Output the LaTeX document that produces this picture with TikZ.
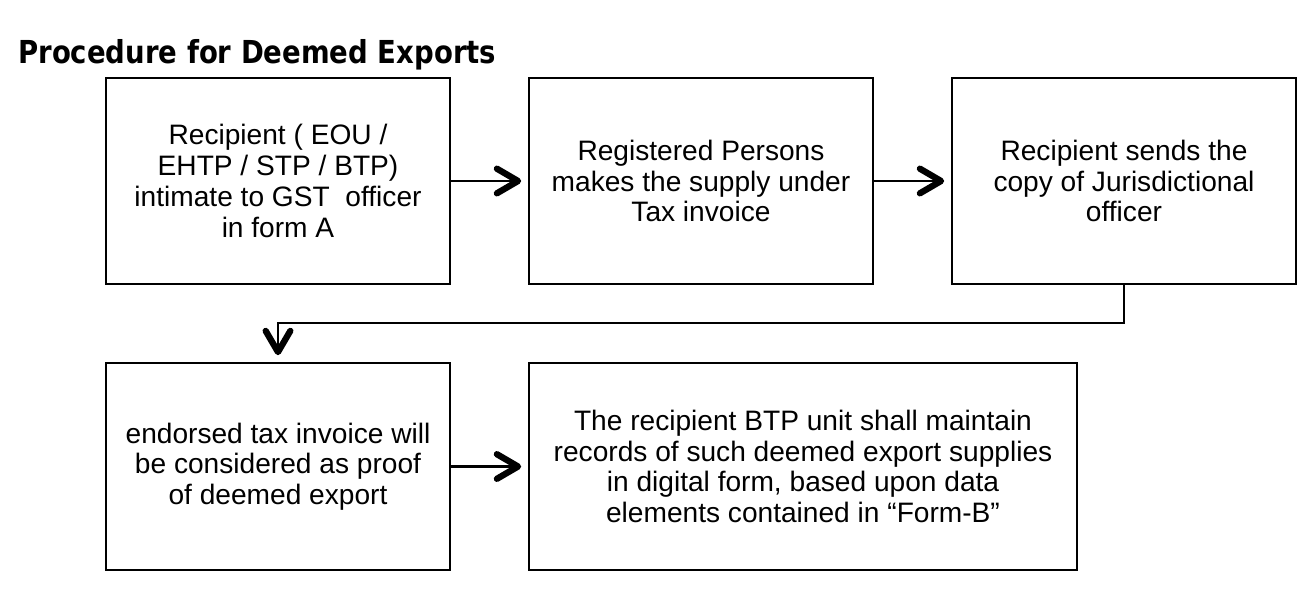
\documentclass[tikz,border=0pt]{standalone}
\usepackage{fontspec}
\setmainfont{Liberation Sans}
\newfontfamily\titlefont{DejaVu Sans}
\usepackage{tikz}
\usetikzlibrary{arrows.meta}
\tikzstyle{stepbox} = [rectangle, draw=black, line width=0.9pt, minimum width=6.88cm,
minimum height=4.12cm, align=center, text centered, font=\fontsize{16}{17.5}\selectfont]
\tikzstyle{flow} = [line width=1.2pt, -{Straight Barb[length=12pt,width=14pt,line width=3.6pt,round]}]

\begin{document}
\begin{tikzpicture}
   \useasboundingbox (0,0) rectangle (26,-11.8);
   \node[anchor=west,inner sep=0pt,font=\titlefont\bfseries\fontsize{18}{21}\selectfont] (title) at (0.36,-1.1)
    {\scalebox{0.87}[1]{Procedure for Deemed Exports}};
   \node[stepbox] (intimate) at (5.56,-3.62) {Recipient ( EOU /\\ EHTP / STP / BTP)\\ intimate to GST~ officer\\ in form A};
   \node[stepbox] (supply) at (14.02,-3.62) {Registered Persons\\ makes the supply under\\ Tax invoice};
   \node[stepbox] (copy) at (22.48,-3.62) {Recipient sends the\\ copy of Jurisdictional\\ officer};
   \node[stepbox,minimum height=4.14cm] (proof) at (5.56,-9.33) {endorsed tax invoice will\\ be considered as proof\\ of deemed export};
   \node[stepbox,minimum height=4.14cm,minimum width=10.96cm] (records) at (16.06,-9.33)
    {The recipient BTP unit shall maintain\\ records of such deemed export supplies\\ in digital form, based upon data\\ elements contained in “Form-B”};
   \coordinate (bend) at (22.48,-6.46);
   \draw[flow,shorten >=4pt] (intimate) -- (supply);
   \draw[flow,shorten >=4pt] (supply) -- (copy);
   \draw[flow,shorten >=4pt] (copy.south) -- (bend) -| (proof.north);
   \draw[flow,shorten >=4pt] (proof) -- (records);
\end{tikzpicture}
\end{document}
